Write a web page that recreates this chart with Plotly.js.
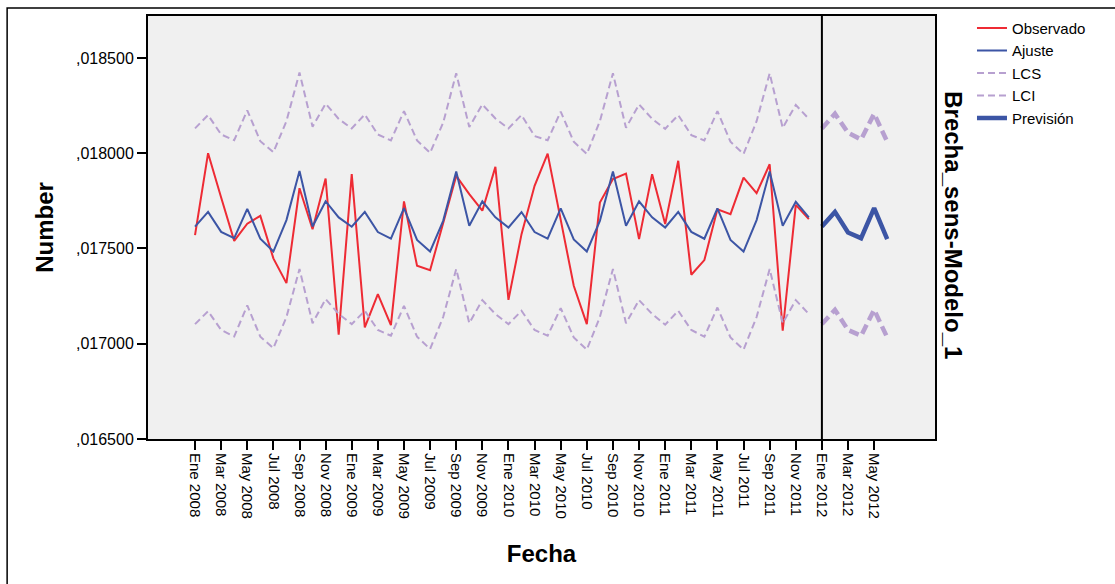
<!DOCTYPE html>
<html>
<head>
<meta charset="utf-8">
<script src="https://cdn.plot.ly/plotly-3.0.1.min.js"></script>
<style>html,body{margin:0;padding:0;background:#fff;}#chart{width:1115px;height:584px;}</style>
</head>
<body>
<div id="chart"></div>
<script>
var months = [
 "Ene 2008","Feb 2008","Mar 2008","Abr 2008","May 2008","Jun 2008","Jul 2008","Ago 2008","Sep 2008","Oct 2008","Nov 2008","Dic 2008",
 "Ene 2009","Feb 2009","Mar 2009","Abr 2009","May 2009","Jun 2009","Jul 2009","Ago 2009","Sep 2009","Oct 2009","Nov 2009","Dic 2009",
 "Ene 2010","Feb 2010","Mar 2010","Abr 2010","May 2010","Jun 2010","Jul 2010","Ago 2010","Sep 2010","Oct 2010","Nov 2010","Dic 2010",
 "Ene 2011","Feb 2011","Mar 2011","Abr 2011","May 2011","Jun 2011","Jul 2011","Ago 2011","Sep 2011","Oct 2011","Nov 2011","Dic 2011"
];
var forecastMonths = ["Ene 2012","Feb 2012","Mar 2012","Abr 2012","May 2012","Jun 2012"];
var tickLabels = [
 "Ene 2008","Mar 2008","May 2008","Jul 2008","Sep 2008","Nov 2008",
 "Ene 2009","Mar 2009","May 2009","Jul 2009","Sep 2009","Nov 2009",
 "Ene 2010","Mar 2010","May 2010","Jul 2010","Sep 2010","Nov 2010",
 "Ene 2011","Mar 2011","May 2011","Jul 2011","Sep 2011","Nov 2011",
 "Ene 2012","Mar 2012","May 2012"
];
var observado = [
 0.01757, 0.01800, 0.017767, 0.01754, 0.01763, 0.017671, 0.017448, 0.017318, 0.017816, 0.017601, 0.017867, 0.017047,
 0.01789, 0.017086, 0.01726, 0.017098, 0.017747, 0.017409, 0.017386, 0.01764, 0.017881, 0.017785, 0.017698, 0.017928,
 0.01723, 0.017575, 0.017829, 0.017998, 0.01765, 0.017304, 0.017103, 0.017741, 0.017864, 0.017893, 0.017549, 0.01789,
 0.017628, 0.01796, 0.017362, 0.017439, 0.017706, 0.01768, 0.017872, 0.01779, 0.017942, 0.017068, 0.017729, 0.017654
];
var ajuste = [
 0.017615, 0.017692, 0.017587, 0.017554, 0.017708, 0.017551, 0.017484, 0.017649, 0.017906, 0.017615, 0.017748, 0.017663,
 0.017614, 0.017692, 0.017586, 0.017552, 0.017712, 0.017545, 0.017484, 0.017645, 0.017904, 0.017619, 0.017747, 0.017663,
 0.01761, 0.017691, 0.017586, 0.017551, 0.01771, 0.017547, 0.017484, 0.017645, 0.017904, 0.017619, 0.017747, 0.017663,
 0.01761, 0.017692, 0.017587, 0.017551, 0.01771, 0.017545, 0.017484, 0.017649, 0.017904, 0.017619, 0.017745, 0.017663
];
var lcs = [
 0.01813, 0.0182, 0.018098, 0.018068, 0.018225, 0.018063, 0.018005, 0.018168, 0.018423, 0.018139, 0.01826, 0.01818,
 0.01813, 0.018203, 0.018098, 0.018067, 0.018221, 0.018067, 0.018002, 0.01816, 0.018419, 0.018137, 0.018256, 0.018182,
 0.01813, 0.0182, 0.01809, 0.018068, 0.018218, 0.01806, 0.017996, 0.018168, 0.018419, 0.018133, 0.018256, 0.01818,
 0.018128, 0.0182, 0.018095, 0.018067, 0.018221, 0.01806, 0.017996, 0.018168, 0.018419, 0.018133, 0.018253, 0.01818
];
var lci = [
 0.017103, 0.017171, 0.017072, 0.017038, 0.017201, 0.017037, 0.016977, 0.01714, 0.017392, 0.017108, 0.017234, 0.017156,
 0.017103, 0.017173, 0.017072, 0.017042, 0.017199, 0.017037, 0.016972, 0.01714, 0.017392, 0.017108, 0.017229, 0.017156,
 0.017103, 0.017173, 0.017072, 0.017042, 0.017187, 0.017033, 0.016969, 0.01714, 0.017392, 0.017108, 0.017229, 0.017156,
 0.0171, 0.017173, 0.017072, 0.017037, 0.01719, 0.017033, 0.016969, 0.01714, 0.017392, 0.017108, 0.017229, 0.017156
];
var prevision = [0.017615, 0.017692, 0.017584, 0.017554, 0.017712, 0.017549];
var lcsPrev = [0.01813, 0.018207, 0.018107, 0.018072, 0.018207, 0.01806];
var lciPrev = [0.017103, 0.017178, 0.017072, 0.017042, 0.017178, 0.017033];
var yTickVals = [0.0165, 0.0170, 0.0175, 0.0180, 0.0185];
var yTickText = [",016500", ",017000", ",017500", ",018000", ",018500"];

var allMonths = months.concat(forecastMonths);
var RED = "#ee2b34", BLUE = "#3c55a5", LAV = "#b7a0d0";
var FONT = "Arial, 'Liberation Sans', sans-serif";

var traces = [
 {x: months, y: observado, name: "Observado", type: "scatter", mode: "lines", line: {color: RED, width: 2}},
 {x: months, y: ajuste, name: "Ajuste", type: "scatter", mode: "lines", line: {color: BLUE, width: 2}},
 {x: months, y: lcs, name: "LCS", type: "scatter", mode: "lines", line: {color: LAV, width: 2, dash: "7px,4px"}},
 {x: months, y: lci, name: "LCI", type: "scatter", mode: "lines", line: {color: LAV, width: 2, dash: "7px,4px"}},
 {x: forecastMonths, y: prevision, name: "Previsión", type: "scatter", mode: "lines", line: {color: BLUE, width: 4.5}},
 {x: forecastMonths, y: lcsPrev, name: "LCS", showlegend: false, type: "scatter", mode: "lines", line: {color: LAV, width: 4.5, dash: "10px,5px"}},
 {x: forecastMonths, y: lciPrev, name: "LCI", showlegend: false, type: "scatter", mode: "lines", line: {color: LAV, width: 4.5, dash: "10px,5px"}}
];

var layout = {
 width: 1115, height: 584,
 margin: {l: 148, r: 180, t: 14, b: 145, pad: 0},
 paper_bgcolor: "#ffffff",
 plot_bgcolor: "#f0f0f0",
 font: {family: FONT, color: "#000", size: 15},
 showlegend: true,
 legend: {x: 1.047, y: 1.01, xanchor: "left", yanchor: "top", font: {size: 15, family: FONT}, bgcolor: "rgba(0,0,0,0)", tracegroupgap: 0, itemwidth: 30},
 xaxis: {
  type: "category", categoryorder: "array", categoryarray: allMonths,
  range: [-3.6, 56.66],
  tickmode: "array", tickvals: tickLabels, ticktext: tickLabels,
  tickangle: 90, ticks: "outside", ticklen: 9, tickwidth: 2, tickcolor: "#000",
  tickfont: {size: 15, family: FONT},
  showline: true, linecolor: "#000", linewidth: 2, mirror: true,
  showgrid: false, zeroline: false, automargin: false,
  title: {text: "<b>Fecha</b>", font: {size: 24, family: FONT}, standoff: 27}
 },
 yaxis: {
  range: [0.0165, 0.01872],
  tickmode: "array", tickvals: yTickVals, ticktext: yTickText,
  ticks: "outside", ticklen: 9, tickwidth: 2, tickcolor: "#000",
  tickfont: {size: 16, family: FONT},
  showline: true, linecolor: "#000", linewidth: 2, mirror: true,
  showgrid: false, zeroline: false, automargin: false,
  title: {text: "<b>Number</b>", font: {size: 24, family: FONT}, standoff: 16}
 },
 shapes: [
  {type: "line", xref: "x", yref: "paper", x0: "Ene 2012", x1: "Ene 2012", y0: 0, y1: 1, line: {color: "#000", width: 2}},
  {type: "rect", xref: "paper", yref: "paper", x0: -0.179, x1: 1.5, y0: -0.5, y1: 1.0188, line: {color: "#000", width: 1.5}, fillcolor: "rgba(0,0,0,0)", layer: "below"}
 ],
 annotations: [
  {text: "<b>Brecha_sens-Modelo_1</b>", xref: "paper", yref: "paper", x: 1.0225, y: 0.506, xanchor: "center", yanchor: "middle", textangle: 90, showarrow: false, font: {size: 24, family: FONT, color: "#000"}}
 ]
};

Plotly.newPlot("chart", traces, layout, {displayModeBar: false, staticPlot: true});
</script>
</body>
</html>
